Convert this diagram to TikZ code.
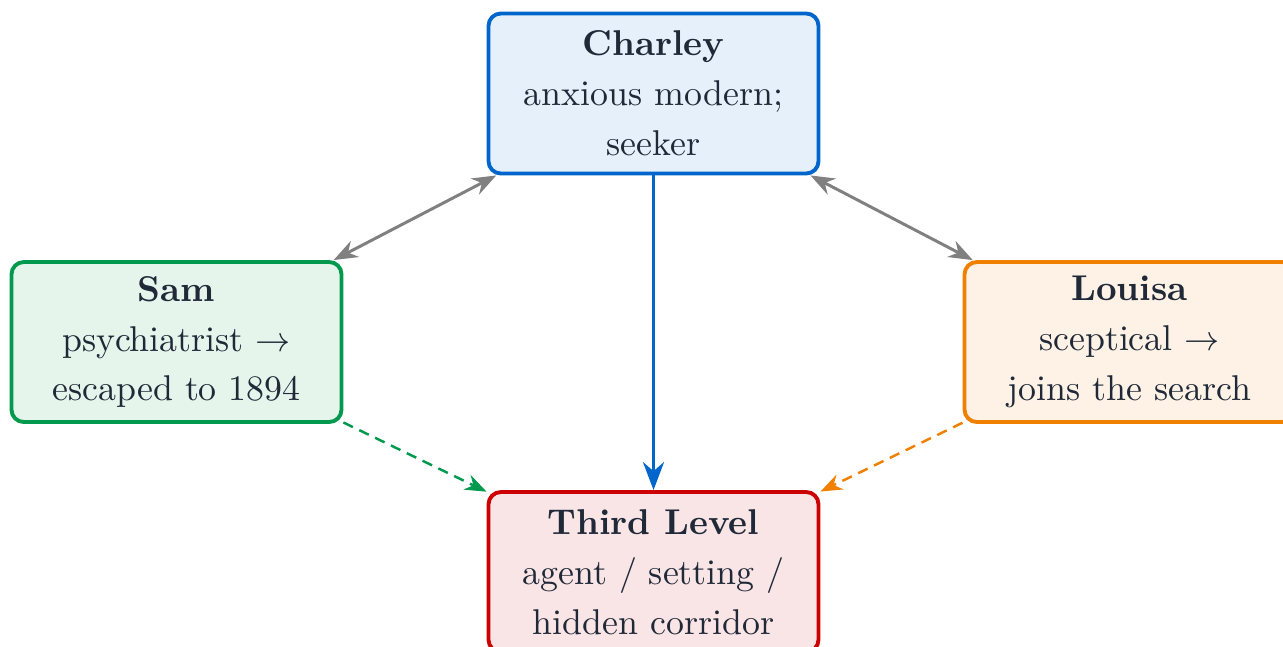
\documentclass[tikz,border=0pt]{standalone}
\usepackage{tikz}
\usetikzlibrary{positioning,arrows.meta}
\definecolor{inkgray}{RGB}{31,41,55}
\definecolor{charleyline}{RGB}{0,102,204}
\definecolor{charleyfill}{RGB}{230,240,250}
\definecolor{samline}{RGB}{0,153,77}
\definecolor{samfill}{RGB}{230,245,236}
\definecolor{louisaline}{RGB}{240,128,0}
\definecolor{louisafill}{RGB}{254,241,230}
\definecolor{levelline}{RGB}{204,0,0}
\definecolor{levelfill}{RGB}{250,229,230}
\newcommand*{\who}[1]{\textbf{#1}}

\begin{document}
\begin{tikzpicture}[
  person/.style={draw,line width=1.1pt,rounded corners=3.5pt,align=center,
    minimum width=3.3cm,minimum height=1.6cm,text=inkgray,
    font=\fontsize{10.2}{14.2}\selectfont},
  link/.style={line width=0.85pt,gray,{Stealth}-{Stealth}},
  drift/.style={line width=0.7pt,dash pattern=on 3pt off 2pt,-{Stealth}}]
\useasboundingbox (0,0) rectangle (12.83,-6.46);
% The four boxes
\node[person,fill=charleyfill,draw=charleyline] (charley) at (6.535,-0.935)
  {\who{Charley}\\anxious modern;\\seeker};
\node[person,fill=samfill,draw=samline] (sam) at (1.765,-3.42)
  {\who{Sam}\\psychiatrist $\rightarrow$\\escaped to 1894};
\node[person,fill=louisafill,draw=louisaline] (louisa) at (11.295,-3.42)
  {\who{Louisa}\\sceptical $\rightarrow$\\joins the search};
\node[person,fill=levelfill,draw=levelline] (level) at (6.535,-5.72)
  {\who{Third Level}\\agent / setting /\\hidden corridor};
% Links between the characters
\draw[link] (charley) -- (sam);
\draw[link] (charley) -- (louisa);
% Everybody heads for the third level
\draw[line width=1.1pt,charleyline,-{Stealth}] (charley) -- (level);
\draw[drift,samline] (sam) -- (level);
\draw[drift,louisaline] (louisa) -- (level);
\end{tikzpicture}
\end{document}
